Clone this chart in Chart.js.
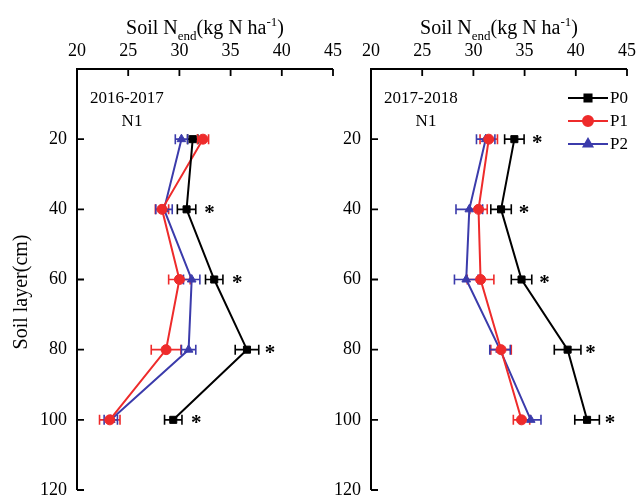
<!DOCTYPE html>
<html lang="en">
<head>
<meta charset="UTF-8">
<title>Soil N end</title>
<script src="https://cdn.jsdelivr.net/npm/chart.js"></script>
<style>
    html, body { margin: 0; padding: 0; background: #fff; }
    .wrap { position: relative; width: 644px; height: 498px; }
    .wrap canvas { position: absolute; left: 0; top: 0; }
</style>
</head>
<body>
<div class="wrap">
    <canvas id="c1" width="644" height="498"></canvas>
    <canvas id="c2" width="644" height="498"></canvas>
</div>
<script>
// profundidades (cm)
var depths = [20, 40, 60, 80, 100];
var xTicks = [20, 25, 30, 35, 40, 45];
var yTicks = [20, 40, 60, 80, 100, 120];
var seriesNames = ['P0', 'P1', 'P2'];

// 2016-2017
var p0_1617 = [31.3, 30.7, 33.4, 36.6, 29.4];
var p1_1617 = [32.3, 28.3, 30.0, 28.7, 23.2];
var p2_1617 = [30.2, 28.5, 31.2, 30.9, 23.3];
var p0err_1617 = [0.5, 0.9, 0.85, 1.15, 0.85];
var p1err_1617 = [0.55, 0.65, 1.05, 1.45, 1.0];
var p2err_1617 = [0.6, 0.8, 0.8, 0.7, 0.65];
var star_1617 = [false, true, true, true, true];

// 2017-2018
var p0_1718 = [34.0, 32.7, 34.7, 39.2, 41.1];
var p1_1718 = [31.5, 30.5, 30.7, 32.7, 34.7];
var p2_1718 = [31.2, 29.6, 29.3, 32.6, 35.6];
var p0err_1718 = [0.95, 1.0, 1.0, 1.3, 1.2];
var p1err_1718 = [0.85, 0.85, 1.3, 1.0, 0.8];
var p2err_1718 = [0.9, 1.3, 1.15, 1.0, 1.0];
var star_1718 = [true, true, true, true, true];

var cores = ['#000000', '#ee2b2b', '#3b3bab'];
var estilos = ['rect', 'circle', 'triangle'];
var serif = '"Liberation Serif", "DejaVu Serif", serif';

function pontos(vals) {
    return vals.map(function (v, i) { return { x: v, y: depths[i] }; });
}

// desenha eixos, barras de erro, asteriscos e textos
function pluginPainel(cfg) {
    return {
        id: 'painel',
        beforeDatasetsDraw: function (chart) {
            var ctx = chart.ctx;
            var xs = chart.scales.x, ys = chart.scales.y;
            ctx.save();
            // barras de erro
            chart.data.datasets.forEach(function (ds, k) {
                var errs = cfg.erros[k];
                ctx.strokeStyle = cores[k];
                ctx.lineWidth = 1.6;
                ds.data.forEach(function (p, i) {
                    var yy = ys.getPixelForValue(p.y);
                    var a = xs.getPixelForValue(p.x - errs[i]);
                    var b = xs.getPixelForValue(p.x + errs[i]);
                    ctx.beginPath();
                    ctx.moveTo(a, yy); ctx.lineTo(b, yy);
                    ctx.moveTo(a, yy - 5); ctx.lineTo(a, yy + 5);
                    ctx.moveTo(b, yy - 5); ctx.lineTo(b, yy + 5);
                    ctx.stroke();
                });
            });
            ctx.restore();
        },
        afterDraw: function (chart) {
            var ctx = chart.ctx;
            var xs = chart.scales.x, ys = chart.scales.y;
            var area = chart.chartArea;
            ctx.save();
            ctx.strokeStyle = '#000';
            ctx.lineWidth = 2;
            ctx.beginPath();
            ctx.moveTo(area.left, ys.getPixelForValue(120));
            ctx.lineTo(area.left, area.top);
            ctx.lineTo(xs.getPixelForValue(45), area.top);
            ctx.stroke();
            ctx.lineWidth = 1.8;
            ctx.beginPath();
            xTicks.forEach(function (t) {
                var px = xs.getPixelForValue(t);
                ctx.moveTo(px, area.top); ctx.lineTo(px, area.top + 7);
            });
            yTicks.forEach(function (t) {
                var py = ys.getPixelForValue(t);
                ctx.moveTo(area.left, py); ctx.lineTo(area.left + 7, py);
            });
            ctx.stroke();

            // asteriscos
            ctx.fillStyle = '#000';
            ctx.font = 'bold 21px ' + serif;
            ctx.textAlign = 'center';
            ctx.textBaseline = 'middle';
            cfg.estrelas.forEach(function (s, i) {
                if (!s) return;
                var px = xs.getPixelForValue(cfg.p0[i]) + 23;
                ctx.fillText('*', px, ys.getPixelForValue(depths[i]) + 4);
            });

            // titulo do eixo x com subscrito/sobrescrito
            var cx = (area.left + xs.getPixelForValue(45)) / 2;
            var partes = [
                { t: 'Soil N', f: '20px ', dy: 0 },
                { t: 'end', f: '13px ', dy: 6 },
                { t: '(kg N ha', f: '20px ', dy: 0 },
                { t: '-1', f: '13px ', dy: -8 },
                { t: ')', f: '20px ', dy: 0 }
            ];
            var total = 0;
            partes.forEach(function (p) { ctx.font = p.f + serif; p.w = ctx.measureText(p.t).width; total += p.w; });
            var x0 = cx - total / 2;
            ctx.textAlign = 'left';
            ctx.textBaseline = 'alphabetic';
            partes.forEach(function (p) {
                ctx.font = p.f + serif;
                ctx.fillText(p.t, x0, 34 + p.dy);
                x0 += p.w;
            });

            // rotulos do painel
            ctx.font = '17px ' + serif;
            ctx.textAlign = 'left';
            ctx.textBaseline = 'middle';
            ctx.fillText(cfg.ano, area.left + 13, 99);
            ctx.textAlign = 'center';
            ctx.fillText('N1', area.left + 55, 122);

            // titulo do eixo y
            if (cfg.tituloY) {
                ctx.save();
                ctx.translate(22, 292);
                ctx.rotate(-Math.PI / 2);
                ctx.font = '20px ' + serif;
                ctx.textAlign = 'center';
                ctx.fillText('Soil layer(cm)', 0, 0);
                ctx.restore();
            }

            // legenda
            if (cfg.legenda) {
                var ly = [98, 121, 144];
                seriesNames.forEach(function (nome, k) {
                    ctx.strokeStyle = cores[k];
                    ctx.fillStyle = cores[k];
                    ctx.lineWidth = 2;
                    ctx.beginPath();
                    ctx.moveTo(568, ly[k]); ctx.lineTo(608, ly[k]);
                    ctx.stroke();
                    Chart.helpers.drawPoint(ctx, { pointStyle: estilos[k], radius: 5, borderWidth: 1 }, 588, ly[k]);
                    ctx.fillStyle = '#000';
                    ctx.font = '17px ' + serif;
                    ctx.textAlign = 'left';
                    ctx.fillText(nome, 610, ly[k] + 1);
                });
            }
            ctx.restore();
        }
    };
}

function criarPainel(id, series, cfg) {
    var datasets = series.map(function (vals, k) {
        return {
            label: seriesNames[k],
            data: pontos(vals),
            showLine: true,
            borderColor: cores[k],
            backgroundColor: cores[k],
            borderWidth: 2,
            pointStyle: estilos[k],
            pointRadius: 5,
            pointBorderWidth: 1
        };
    });
    return new Chart(document.getElementById(id), {
        type: 'scatter',
        data: { datasets: datasets },
        options: {
            responsive: false,
            animation: false,
            events: [],
            layout: { padding: cfg.padding },
            plugins: { legend: { display: false }, tooltip: { enabled: false } },
            scales: {
                x: {
                    type: 'linear', position: 'top', min: 20, max: 45,
                    grid: { display: false, drawTicks: false, tickLength: 0 }, border: { display: false },
                    afterBuildTicks: function (s) { s.ticks = xTicks.map(function (v) { return { value: v }; }); },
                    ticks: { color: '#000', font: { family: serif, size: 18 }, padding: 7, maxRotation: 0 },
                    afterFit: function (s) { s.height = 69; s.paddingLeft = 0; s.paddingRight = 0; }
                },
                y: {
                    type: 'linear', reverse: true, min: 0, max: 120,
                    grid: { display: false, drawTicks: false, tickLength: 0 }, border: { display: false },
                    afterBuildTicks: function (s) { s.ticks = yTicks.map(function (v) { return { value: v }; }); },
                    ticks: { color: '#000', font: { family: serif, size: 18 }, padding: 10 },
                    afterFit: function (s) { s.width = cfg.yWidth; s.paddingTop = 0; s.paddingBottom = 0; }
                }
            }
        },
        plugins: [pluginPainel(cfg)]
    });
}

criarPainel('c1', [p0_1617, p1_1617, p2_1617], {
    padding: { left: 0, top: 0, right: 311, bottom: 8 },
    yWidth: 77,
    erros: [p0err_1617, p1err_1617, p2err_1617],
    p0: p0_1617, estrelas: star_1617,
    ano: '2016-2017', tituloY: true, legenda: false
});

criarPainel('c2', [p0_1718, p1_1718, p2_1718], {
    padding: { left: 331, top: 0, right: 17, bottom: 8 },
    yWidth: 40,
    erros: [p0err_1718, p1err_1718, p2err_1718],
    p0: p0_1718, estrelas: star_1718,
    ano: '2017-2018', tituloY: false, legenda: true
});
</script>
</body>
</html>
